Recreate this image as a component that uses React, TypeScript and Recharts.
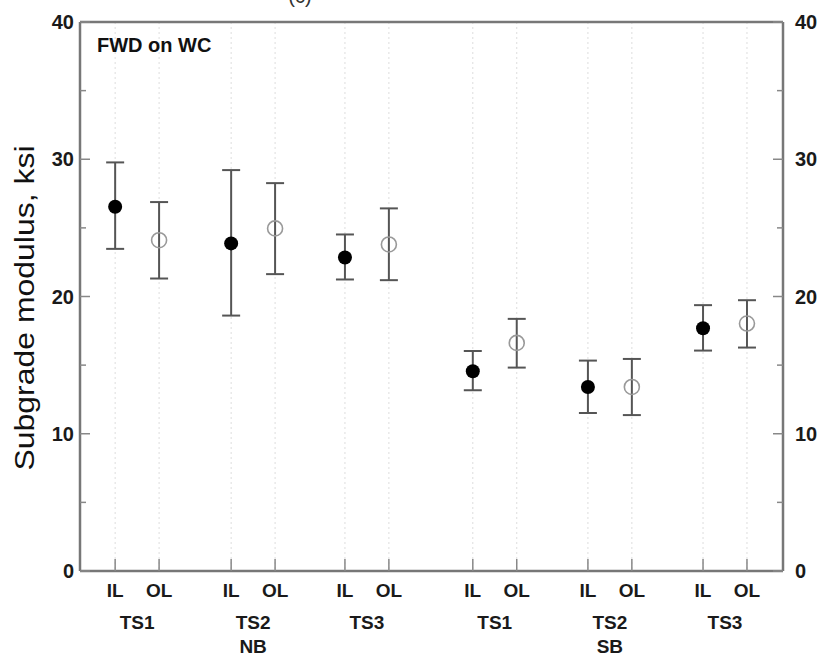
import { ComposedChart, Scatter, ErrorBar, XAxis, YAxis, CartesianGrid, ReferenceLine } from 'recharts';

// positions along the x axis (IL and OL for each test section)
const ilX = [0.8, 3.44, 6.03, 8.94, 11.56, 14.18];
const olX = [1.8, 4.44, 7.03, 9.94, 12.56, 15.18];

const ilMean = [26.54, 23.87, 22.84, 14.55, 13.41, 17.69];
const ilLow = [23.47, 18.61, 21.24, 13.17, 11.51, 16.06];
const ilHigh = [29.77, 29.21, 24.52, 16.03, 15.33, 19.37];

const olMean = [24.1, 24.96, 23.79, 16.62, 13.41, 18.03];
const olLow = [21.31, 21.63, 21.19, 14.82, 11.36, 16.28];
const olHigh = [26.88, 28.26, 26.42, 18.37, 15.45, 19.73];

const sectionLabels = ['TS1', 'TS2', 'TS3', 'TS1', 'TS2', 'TS3'];
const directionLabels = ['', 'NB', '', '', 'SB', ''];
const yTicks = [0, 5, 10, 15, 20, 25, 30, 35, 40];

const FONT = '"Liberation Sans", Arial, sans-serif';
const FRAME = '#777';

const ilData = ilX.map((x, i) => ({ x, y: ilMean[i], err: [ilMean[i] - ilLow[i], ilHigh[i] - ilMean[i]] }));
const olData = olX.map((x, i) => ({ x, y: olMean[i], err: [olMean[i] - olLow[i], olHigh[i] - olMean[i]] }));
const xTicks = [...ilX, ...olX].sort((a, b) => a - b);
const groupTicks = ilX.map((v, i) => (v + olX[i]) / 2);

const LeftTick = ({ x, y, payload }: any) => {
  const major = payload.value % 10 === 0;
  return (
    <g>
      <line x1={x} x2={x + (major ? 10 : 6)} y1={y} y2={y} stroke="#888" strokeWidth={1.5} />
      {major && (
        <text x={x - 6} y={y} dy="0.36em" textAnchor="end" fontFamily={FONT} fontWeight="bold" fontSize={20} fill="#1a1a1a">
          {payload.value}
        </text>
      )}
    </g>
  );
};

const RightTick = ({ x, y, payload }: any) => {
  const major = payload.value % 10 === 0;
  return (
    <g>
      <line x1={x} x2={x - (major ? 10 : 6)} y1={y} y2={y} stroke="#888" strokeWidth={1.5} />
      {major && (
        <text x={x + 12} y={y} dy="0.36em" textAnchor="start" fontFamily={FONT} fontWeight="bold" fontSize={20} fill="#1a1a1a">
          {payload.value}
        </text>
      )}
    </g>
  );
};

const LayerTick = ({ x, y, payload }: any) => (
  <g>
    <line x1={x} x2={x} y1={y} y2={y - 12} stroke="#888" strokeWidth={1.5} />
    <text x={x} y={y + 26} textAnchor="middle" fontFamily={FONT} fontWeight="bold" fontSize={19} fill="#1a1a1a">
      {ilX.includes(payload.value) ? 'IL' : 'OL'}
    </text>
  </g>
);

const GroupTick = ({ x, y, index }: any) => (
  <g>
    <text x={x} y={y + 28} textAnchor="middle" fontFamily={FONT} fontWeight="bold" fontSize={19} fill="#1a1a1a">
      {sectionLabels[index]}
    </text>
    {directionLabels[index] && (
      <text x={x} y={y + 52} textAnchor="middle" fontFamily={FONT} fontWeight="bold" fontSize={19} fill="#1a1a1a">
        {directionLabels[index]}
      </text>
    )}
  </g>
);

const FilledDot = ({ cx, cy }: any) => <circle cx={cx} cy={cy} r={7} fill="#000" />;
const OpenDot = ({ cx, cy }: any) => <circle cx={cx} cy={cy} r={7.5} fill="none" stroke="#999" strokeWidth={1.6} />;
const NoDot = () => <g />;

export default function App() {
  return (
    <div style={{ position: 'absolute', left: 0, top: 0, width: 817, height: 656, background: '#fff' }}>
      <ComposedChart width={817} height={656} margin={{ top: 22, right: 0, bottom: 0, left: 0 }}>
        <CartesianGrid horizontal={false} stroke="#ddd" strokeDasharray="2 3" xAxisId={0} yAxisId="left" />
        <XAxis
          xAxisId={0}
          type="number"
          dataKey="x"
          domain={[0, 16]}
          ticks={xTicks}
          interval={0}
          height={30}
          tickSize={0}
          tickMargin={0}
          tickLine={false}
          axisLine={{ stroke: FRAME, strokeWidth: 2.5 }}
          tick={<LayerTick />}
          allowDataOverflow
        />
        <XAxis
          xAxisId="grp"
          type="number"
          dataKey="x"
          domain={[0, 16]}
          ticks={groupTicks}
          interval={0}
          height={55}
          tickSize={0}
          tickMargin={0}
          tickLine={false}
          axisLine={false}
          tick={<GroupTick />}
          allowDataOverflow
        />
        <YAxis
          yAxisId="left"
          type="number"
          dataKey="y"
          domain={[0, 40]}
          ticks={yTicks}
          interval={0}
          width={80}
          tickSize={0}
          tickMargin={0}
          tickLine={false}
          axisLine={{ stroke: FRAME, strokeWidth: 2.5 }}
          tick={<LeftTick />}
          allowDataOverflow
        />
        <YAxis
          yAxisId="right"
          orientation="right"
          type="number"
          dataKey="y"
          domain={[0, 40]}
          ticks={yTicks}
          interval={0}
          width={34}
          tickSize={0}
          tickMargin={0}
          tickLine={false}
          axisLine={{ stroke: FRAME, strokeWidth: 2.5 }}
          tick={<RightTick />}
          allowDataOverflow
        />
        <ReferenceLine y={40} yAxisId="left" xAxisId={0} stroke={FRAME} strokeWidth={2.5} />
        {/* carrier series so the secondary axes get a scale */}
        <Scatter data={ilData} xAxisId="grp" yAxisId="right" shape={<NoDot />} isAnimationActive={false} />
        <Scatter data={olData} xAxisId={0} yAxisId="left" shape={<OpenDot />} isAnimationActive={false}>
          <ErrorBar dataKey="err" direction="y" width={9} stroke="#555" strokeWidth={2} isAnimationActive={false} />
        </Scatter>
        <Scatter data={ilData} xAxisId={0} yAxisId="left" shape={<FilledDot />} isAnimationActive={false}>
          <ErrorBar dataKey="err" direction="y" width={9} stroke="#555" strokeWidth={2} isAnimationActive={false} />
        </Scatter>
      </ComposedChart>
      <svg width={817} height={656} style={{ position: 'absolute', left: 0, top: 0, pointerEvents: 'none' }}>
        <text x={300} y={3} textAnchor="middle" fontFamily={FONT} fontSize={20} fill="#333">(c)</text>
        <text x={97} y={52} fontFamily={FONT} fontWeight="bold" fontSize={20} fill="#111">FWD on WC</text>
        <text
          transform="translate(24, 308) rotate(-90)"
          textAnchor="middle"
          dy="0.35em"
          fontFamily={FONT}
          fontSize={28}
          textLength={325}
          lengthAdjust="spacingAndGlyphs"
          fill="#111"
        >
          Subgrade modulus, ksi
        </text>
      </svg>
    </div>
  );
}
